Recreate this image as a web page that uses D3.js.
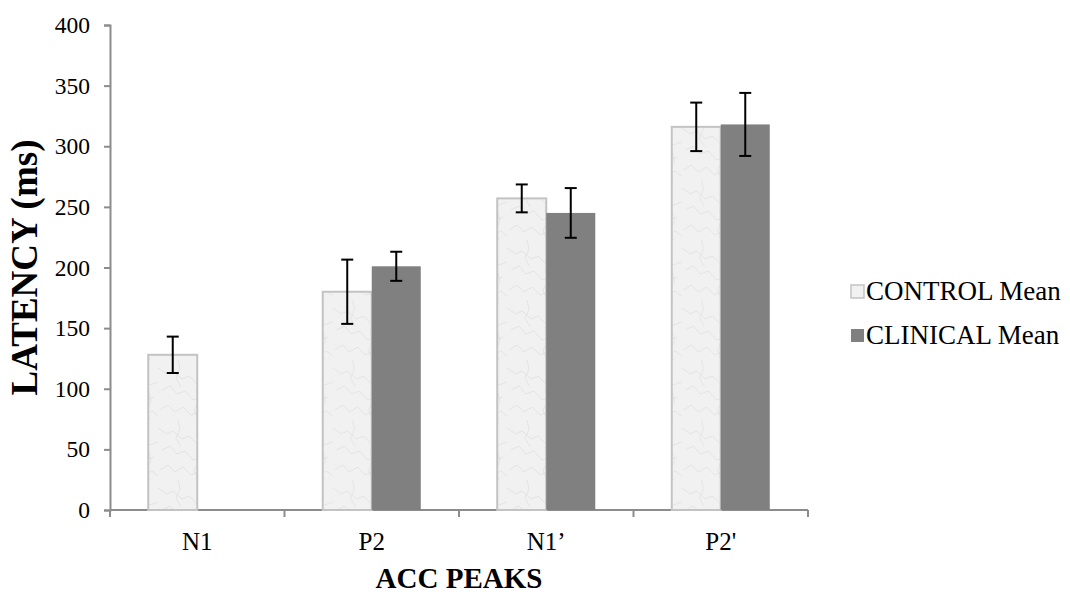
<!DOCTYPE html>
<html>
<head>
<meta charset="utf-8">
<script src="https://cdn.jsdelivr.net/npm/d3@7"></script>
<style>
  body { margin: 0; background: #fff; }
  svg { display: block; font-family: "Liberation Serif", "Times New Roman", serif; }
</style>
</head>
<body>
<div id="chart"></div>
<script>
// categories and series
const peaks = ["N1", "P2", "N1\u2019", "P2'"];
const seriesNames = ["CONTROL Mean", "CLINICAL Mean"];
const controlMean = [128, 180, 257, 316];
const controlErr = [15, 26.5, 11.5, 20];
const clinicalMean = [null, 201, 245, 318];
const clinicalErr = [null, 12, 20.5, 26];
const yTicks = [0, 50, 100, 150, 200, 250, 300, 350, 400];

const width = 1070, height = 594;
const margin = {left: 110, right: 262, top: 25, bottom: 84};

const svg = d3.select("#chart").append("svg")
  .attr("width", width)
  .attr("height", height);

// marble-ish texture for the control bars
const defs = svg.append("defs");
const pat = defs.append("pattern")
  .attr("id", "marble")
  .attr("patternUnits", "userSpaceOnUse")
  .attr("width", 48).attr("height", 60);
pat.append("rect").attr("width", 48).attr("height", 60).attr("fill", "#f1f1f1");
const veins = [
  "M0,8 L9,14 L15,11 L24,19 L31,16 L40,25 L48,22",
  "M4,30 L12,26 L19,34 L27,31 L35,40 L44,37",
  "M2,50 L10,45 L17,52 L25,47 L33,55 L42,51 L48,56",
  "M20,0 L22,9 L18,18 L23,27",
  "M38,30 L41,41 L36,50 L40,60"
];
pat.selectAll("path").data(veins).join("path")
  .attr("d", d => d)
  .attr("fill", "none")
  .attr("stroke", "#dcdcdc")
  .attr("stroke-width", 0.7);

const x = d3.scaleBand()
  .domain(peaks)
  .range([margin.left, width - margin.right])
  .paddingInner(0).paddingOuter(0);

const xs = d3.scaleBand()
  .domain(seriesNames)
  .range([0, x.bandwidth()])
  .paddingInner(0).paddingOuter(0.78);

const y = d3.scaleLinear()
  .domain([0, 400])
  .range([height - margin.bottom, margin.top]);

// y axis
const yAxis = svg.append("g")
  .attr("transform", `translate(${margin.left},0)`)
  .call(d3.axisLeft(y).tickValues(yTicks).tickSize(6).tickPadding(14));
yAxis.attr("font-family", null).attr("font-size", null);
yAxis.selectAll("text")
  .attr("font-size", 23.5)
  .attr("fill", "#000");

// x axis
const xAxisG = svg.append("g")
  .attr("transform", `translate(0,${y(0)})`);
xAxisG.append("line")
  .attr("x1", margin.left).attr("x2", width - margin.right)
  .attr("y1", 0).attr("y2", 0);
const boundaries = peaks.map(p => x(p)).concat([x(peaks[peaks.length - 1]) + x.bandwidth()]);
xAxisG.selectAll(".xt").data(boundaries).join("line")
  .attr("class", "xt")
  .attr("x1", d => d).attr("x2", d => d)
  .attr("y1", 0).attr("y2", 7);
xAxisG.selectAll(".xl").data(peaks).join("text")
  .attr("class", "xl")
  .attr("x", d => x(d) + x.bandwidth() / 2)
  .attr("y", 40)
  .attr("text-anchor", "middle")
  .attr("font-size", 25)
  .attr("fill", "#000")
  .text(d => d);

svg.selectAll(".domain, .tick line").attr("stroke", "#8c8c8c").attr("stroke-width", 2);
xAxisG.selectAll("line").attr("stroke", "#8c8c8c").attr("stroke-width", 2);

// bars
const rows = peaks.map((p, i) => ({
  peak: p,
  vals: [
    {name: seriesNames[0], mean: controlMean[i], err: controlErr[i]},
    {name: seriesNames[1], mean: clinicalMean[i], err: clinicalErr[i]}
  ].filter(d => d.mean != null)
}));

const groups = svg.selectAll(".grp").data(rows).join("g")
  .attr("class", "grp")
  .attr("transform", d => `translate(${x(d.peak)},0)`);

groups.selectAll("rect").data(d => d.vals).join("rect")
  .attr("x", d => xs(d.name))
  .attr("y", d => y(d.mean))
  .attr("width", xs.bandwidth())
  .attr("height", d => y(0) - y(d.mean))
  .attr("fill", d => d.name === seriesNames[0] ? "url(#marble)" : "#808080")
  .attr("stroke", d => d.name === seriesNames[0] ? "#c3c3c3" : "none")
  .attr("stroke-width", 2);

// error bars
const eb = groups.selectAll(".eb").data(d => d.vals).join("g")
  .attr("class", "eb")
  .attr("stroke", "#000")
  .attr("stroke-width", 2);
eb.append("line")
  .attr("x1", d => xs(d.name) + xs.bandwidth() / 2)
  .attr("x2", d => xs(d.name) + xs.bandwidth() / 2)
  .attr("y1", d => y(d.mean + d.err))
  .attr("y2", d => y(d.mean - d.err));
[1, -1].forEach(s => {
  eb.append("line")
    .attr("x1", d => xs(d.name) + xs.bandwidth() / 2 - 6)
    .attr("x2", d => xs(d.name) + xs.bandwidth() / 2 + 6)
    .attr("y1", d => y(d.mean + s * d.err))
    .attr("y2", d => y(d.mean + s * d.err));
});

// axis titles
svg.append("text")
  .attr("x", (margin.left + width - margin.right) / 2)
  .attr("y", 588)
  .attr("text-anchor", "middle")
  .attr("font-size", 29)
  .attr("font-weight", "bold")
  .text("ACC PEAKS");

svg.append("text")
  .attr("transform", `translate(37,${(y(0) + y(400)) / 2}) rotate(-90)`)
  .attr("text-anchor", "middle")
  .attr("font-size", 37)
  .attr("font-weight", "bold")
  .text("LATENCY (ms)");

// legend
const legend = svg.selectAll(".lg").data(seriesNames).join("g")
  .attr("class", "lg")
  .attr("transform", (d, i) => `translate(850,${300 + i * 44})`);
legend.append("rect")
  .attr("x", 1).attr("y", -15)
  .attr("width", 13).attr("height", 13)
  .attr("fill", (d, i) => i === 0 ? "#f1f1f1" : "#808080")
  .attr("stroke", (d, i) => i === 0 ? "#c3c3c3" : "none")
  .attr("stroke-width", 1.5);
legend.append("text")
  .attr("x", 16)
  .attr("y", 0)
  .attr("font-size", 27)
  .attr("fill", "#000")
  .text(d => d);
</script>
</body>
</html>
